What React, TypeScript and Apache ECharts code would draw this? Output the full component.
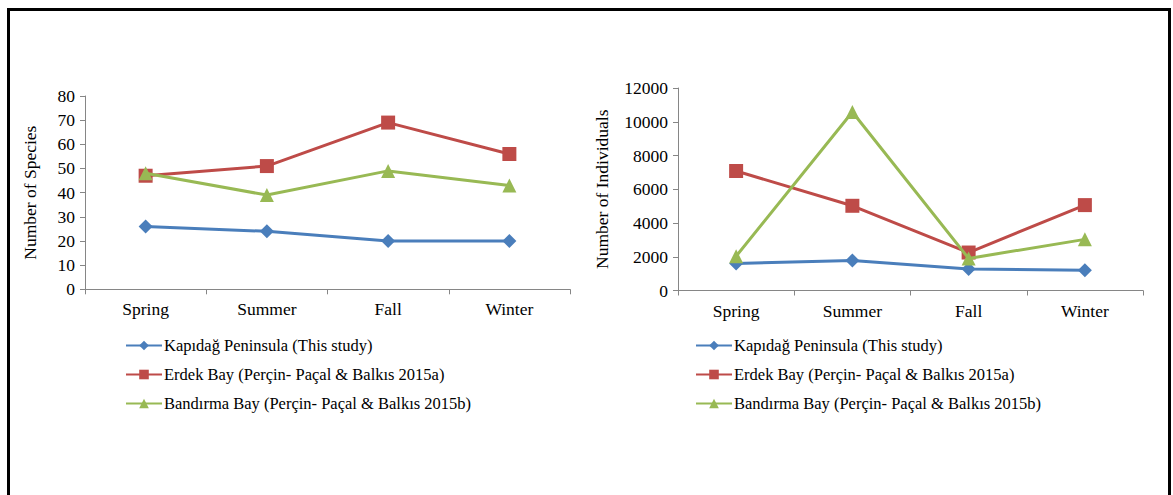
import React, { useEffect, useRef } from "react";
import * as echarts from "echarts";

const seasons = ["Spring", "Summer", "Fall", "Winter"];
const seriesNames = [
  "Kapıdağ Peninsula (This study)",
  "Erdek Bay (Perçin- Paçal & Balkıs 2015a)",
  "Bandırma Bay (Perçin- Paçal & Balkıs 2015b)",
];
const speciesKapidag = [26, 24, 20, 20];
const speciesErdek = [47, 51, 69, 56];
const speciesBandirma = [48, 39, 49, 43];
const indivKapidag = [1600, 1780, 1280, 1200];
const indivErdek = [7080, 5020, 2250, 5060];
const indivBandirma = [2030, 10580, 1900, 3030];

const colors = ["#4A7EBB", "#BE4B48", "#98B954"];
const symbols = ["diamond", "rect", "triangle"];
const symbolSizes = [14, 14, 14];
const FONT = "'Liberation Serif', 'Times New Roman', serif";

export default function App() {
  const ref = useRef<HTMLDivElement>(null);
  useEffect(() => {
    if (!ref.current) return;
    const chart = echarts.init(ref.current, undefined, { renderer: "svg" });
    const axisLine = { show: true, lineStyle: { color: "#868686", width: 1 } };
    const axisTick = { show: true, length: 5, lineStyle: { color: "#868686" } };
    const labelStyle = { color: "#000", fontFamily: FONT, fontSize: 17.5 };
    const mkX = (gridIndex: number) => ({
      type: "category",
      gridIndex,
      data: seasons,
      boundaryGap: true,
      axisLine,
      axisTick: { ...axisTick, alignWithLabel: false },
      axisLabel: { ...labelStyle, margin: 11 },
      splitLine: { show: false },
    });
    const mkY = (gridIndex: number, max: number, interval: number, name: string, nameGap: number) => ({
      type: "value",
      gridIndex,
      min: 0,
      max,
      interval,
      name,
      nameLocation: "middle",
      nameRotate: 90,
      nameGap,
      nameTextStyle: { color: "#000", fontFamily: FONT, fontSize: 17.5 },
      axisLine,
      axisTick,
      axisLabel: { ...labelStyle, margin: 10, formatter: (v: number) => String(v) },
      splitLine: { show: false },
    });
    const left = [speciesKapidag, speciesErdek, speciesBandirma];
    const right = [indivKapidag, indivErdek, indivBandirma];
    const mkSeries = (data: number[], i: number, idx: number) => ({
      type: "line",
      name: seriesNames[i],
      xAxisIndex: idx,
      yAxisIndex: idx,
      data,
      symbol: symbols[i],
      symbolSize: symbolSizes[i],
      lineStyle: { color: colors[i], width: 3 },
      itemStyle: { color: colors[i] },
      z: 3 + i,
    });
    const mkLegend = (leftPos: number) => ({
      orient: "vertical",
      left: leftPos,
      top: 337,
      padding: 0,
      itemWidth: 36,
      itemHeight: 12,
      itemGap: 12,
      selectedMode: false,
      data: seriesNames,
      textStyle: { color: "#000", fontFamily: FONT, fontSize: 16.5, lineHeight: 16, padding: [0, 0, 0, -3] },
    });
    chart.setOption({
      animation: false,
      backgroundColor: "#fff",
      color: colors,
      grid: [
        { left: 85, top: 96, width: 485, height: 193.3 },
        { left: 678, top: 88, width: 465, height: 202.5 },
      ],
      xAxis: [mkX(0), mkX(1)],
      yAxis: [
        mkY(0, 80, 10, "Number of Species", 46),
        mkY(1, 12000, 2000, "Number of Individuals", 67),
      ],
      legend: [mkLegend(125), mkLegend(695)],
      series: [
        ...left.map((d, i) => mkSeries(d, i, 0)),
        ...right.map((d, i) => mkSeries(d, i, 1)),
      ],
      graphic: [
        {
          type: "polyline",
          shape: { points: [[8.5, 500], [8.5, 9.5], [1169.5, 9.5], [1169.5, 500]] },
          style: { stroke: "#000", lineWidth: 3, fill: "none" },
          z: 10,
        },
      ],
    });
    return () => chart.dispose();
  }, []);
  return (
    <div
      ref={ref}
      style={{ position: "fixed", left: 0, top: 0, width: 1173, height: 495 }}
    />
  );
}
